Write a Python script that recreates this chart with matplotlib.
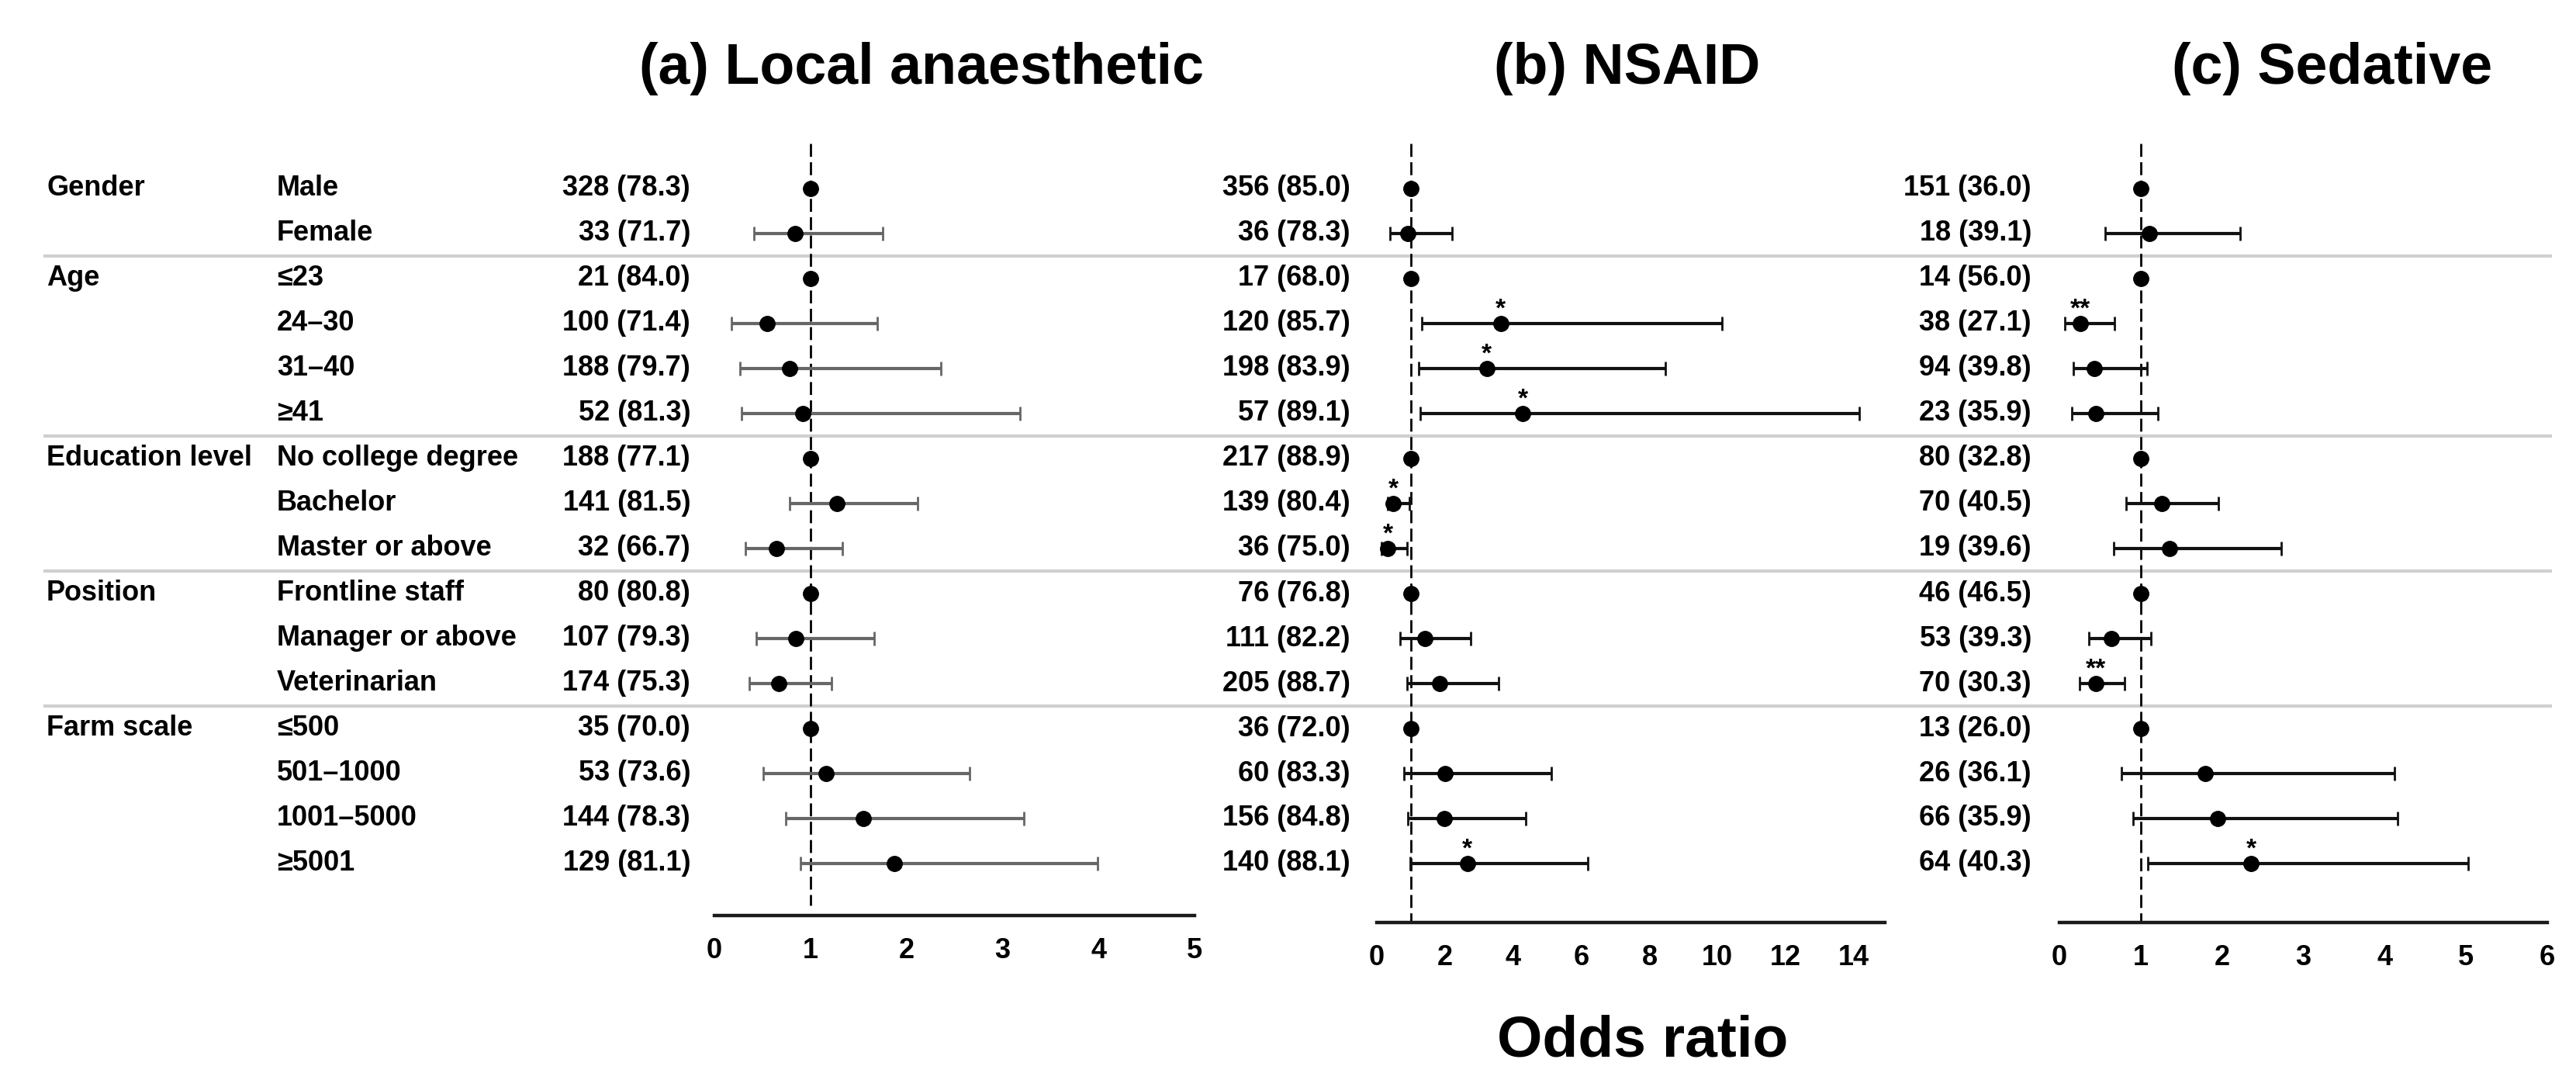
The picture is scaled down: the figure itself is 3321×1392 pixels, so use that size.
import numpy as np
import matplotlib
matplotlib.use("Agg")
import matplotlib.pyplot as plt
from matplotlib import transforms

plt.rcParams["font.family"] = ["Liberation Sans", "DejaVu Sans"]
plt.rcParams["font.weight"] = "bold"

nan = np.nan

# Row labels
groups = ["Gender", "Age", "Education level", "Position", "Farm scale"]
group_rows = [0, 2, 6, 9, 12]
levels = ["Male", "Female", "≤23", "24–30", "31–40", "≥41",
          "No college degree", "Bachelor", "Master or above",
          "Frontline staff", "Manager or above", "Veterinarian",
          "≤500", "501–1000", "1001–5000", "≥5001"]
separators = [1.5, 5.5, 8.5, 11.5]

# (a) Local anaesthetic
counts_a = ["328 (78.3)", "33 (71.7)", "21 (84.0)", "100 (71.4)", "188 (79.7)", "52 (81.3)",
            "188 (77.1)", "141 (81.5)", "32 (66.7)", "80 (80.8)", "107 (79.3)", "174 (75.3)",
            "35 (70.0)", "53 (73.6)", "144 (78.3)", "129 (81.1)"]
or_a = [1, 0.84, 1, 0.55, 0.78, 0.92, 1, 1.28, 0.65, 1, 0.85, 0.67, 1, 1.16, 1.55, 1.87]
lo_a = [nan, 0.41, nan, 0.18, 0.27, 0.28, nan, 0.78, 0.32, nan, 0.44, 0.36, nan, 0.51, 0.74, 0.90]
hi_a = [nan, 1.75, nan, 1.70, 2.36, 3.18, nan, 2.12, 1.33, nan, 1.66, 1.22, nan, 2.66, 3.22, 3.99]
sig_a = [""] * 16

# (b) NSAID
counts_b = ["356 (85.0)", "36 (78.3)", "17 (68.0)", "120 (85.7)", "198 (83.9)", "57 (89.1)",
            "217 (88.9)", "139 (80.4)", "36 (75.0)", "76 (76.8)", "111 (82.2)", "205 (88.7)",
            "36 (72.0)", "60 (83.3)", "156 (84.8)", "140 (88.1)"]
or_b = [1, 0.91, 1, 3.64, 3.23, 4.28, 1, 0.48, 0.32, 1, 1.40, 1.84, 1, 2.01, 1.98, 2.66]
lo_b = [nan, 0.39, nan, 1.31, 1.22, 1.27, nan, 0.33, 0.14, nan, 0.69, 0.89, nan, 0.80, 0.91, 0.98]
hi_b = [nan, 2.20, nan, 10.13, 8.46, 14.15, nan, 0.96, 0.89, nan, 2.76, 3.58, nan, 5.13, 4.37, 6.20]
sig_b = ["", "", "", "*", "*", "*", "", "*", "*", "", "", "", "", "", "", "*"]

# (c) Sedative
counts_c = ["151 (36.0)", "18 (39.1)", "14 (56.0)", "38 (27.1)", "94 (39.8)", "23 (35.9)",
            "80 (32.8)", "70 (40.5)", "19 (39.6)", "46 (46.5)", "53 (39.3)", "70 (30.3)",
            "13 (26.0)", "26 (36.1)", "66 (35.9)", "64 (40.3)"]
or_c = [1, 1.11, 1, 0.26, 0.43, 0.45, 1, 1.26, 1.35, 1, 0.64, 0.45, 1, 1.79, 1.95, 2.36]
lo_c = [nan, 0.56, nan, 0.07, 0.17, 0.15, nan, 0.82, 0.67, nan, 0.36, 0.25, nan, 0.76, 0.91, 1.09]
hi_c = [nan, 2.22, nan, 0.68, 1.08, 1.21, nan, 1.96, 2.73, nan, 1.13, 0.80, nan, 4.12, 4.16, 5.03]
sig_c = ["", "", "", "**", "", "", "", "", "", "", "", "**", "", "", "", "*"]

W, H = 3321, 1392
fig = plt.figure(figsize=(W / 100, H / 100), dpi=100)

# background axes in pixel coordinates for labels and separators
bg = fig.add_axes([0, 0, 1, 1])
bg.set_xlim(0, W)
bg.set_ylim(H, 0)
bg.axis("off")

row0, step = 243, 58.0


def make_panel(left, right, bottom, xmax, ticks):
    top = 180
    ax = fig.add_axes([left / W, 1 - bottom / H, (right - left) / W, (bottom - top) / H])
    ax.set_xlim(0, xmax)
    ax.set_ylim((bottom - row0) / step, (top - row0) / step)
    for s in ["top", "right", "left"]:
        ax.spines[s].set_visible(False)
    ax.spines["bottom"].set_linewidth(3.2)
    ax.spines["bottom"].set_color("#1a1a1a")
    ax.set_yticks([])
    ax.set_xticks(ticks)
    ax.tick_params(axis="x", length=0, pad=20, labelsize=26)
    ax.patch.set_alpha(0)
    return ax


panels = [
    dict(ax=make_panel(921, 1540, 1180, 5, range(0, 6)), counts=counts_a, or_=or_a, lo=lo_a, hi=hi_a,
         sig=sig_a, ecolor="#666666", count_x=890, dash_end=15.93,
         title="(a) Local anaesthetic", title_x=1188),
    dict(ax=make_panel(1775, 2430, 1189, 14.91, range(0, 15, 2)), counts=counts_b, or_=or_b, lo=lo_b,
         hi=hi_b, sig=sig_b, ecolor="#111111", count_x=1741, dash_end=None,
         title="(b) NSAID", title_x=2098),
    dict(ax=make_panel(2655, 3284, 1189, 6, range(0, 7)), counts=counts_c, or_=or_c, lo=lo_c, hi=hi_c,
         sig=sig_c, ecolor="#111111", count_x=2619, dash_end=None,
         title="(c) Sedative", title_x=3007),
]

rows = np.arange(len(levels))
ax_a = panels[0]["ax"]
lab_tr = transforms.blended_transform_factory(bg.transData, ax_a.transData)

for p in panels:
    ax = p["ax"]
    orv = np.array(p["or_"], dtype=float)
    lo = np.array(p["lo"], dtype=float)
    hi = np.array(p["hi"], dtype=float)
    has_ci = ~np.isnan(lo)
    bottom_lim = ax.get_ylim()[0]
    dash_end = p["dash_end"] if p["dash_end"] is not None else bottom_lim
    ax.plot([1, 1], [-1.0, dash_end], color="black", lw=2.0, ls=(0, (6, 2.5)), zorder=1, clip_on=False)
    ax.errorbar(orv[has_ci], rows[has_ci],
                xerr=[orv[has_ci] - lo[has_ci], hi[has_ci] - orv[has_ci]],
                fmt="none", ecolor=p["ecolor"], elinewidth=3.0, capsize=6.5, capthick=2.0, zorder=2)
    ax.plot(orv, rows, "o", color="black", markersize=14, zorder=3, clip_on=False)
    for r, s in zip(rows, p["sig"]):
        if s:
            ax.annotate(s, (orv[r], r), xytext=(0, 7), textcoords="offset points",
                        ha="center", va="baseline", fontsize=24)
    tr = transforms.blended_transform_factory(bg.transData, ax.transData)
    for r, c in zip(rows, p["counts"]):
        fig.text(p["count_x"], r, c, transform=tr, ha="right", va="center", fontsize=26)
    fig.text(p["title_x"] / W, 1 - 108 / H, p["title"], ha="center", va="baseline", fontsize=53)

for g, r in zip(groups, group_rows):
    fig.text(60, r, g, transform=lab_tr, ha="left", va="center", fontsize=26)
for r, lv in zip(rows, levels):
    fig.text(357, r, lv, transform=lab_tr, ha="left", va="center", fontsize=26)
for s in separators:
    bg.plot([58, 3288], [row0 + s * step] * 2, color="#cfcfcf", lw=3.0, zorder=0)

fig.text(2118 / W, 1 - 1362 / H, "Odds ratio", ha="center", va="baseline", fontsize=54)

fig.savefig("out.png", dpi=100)
